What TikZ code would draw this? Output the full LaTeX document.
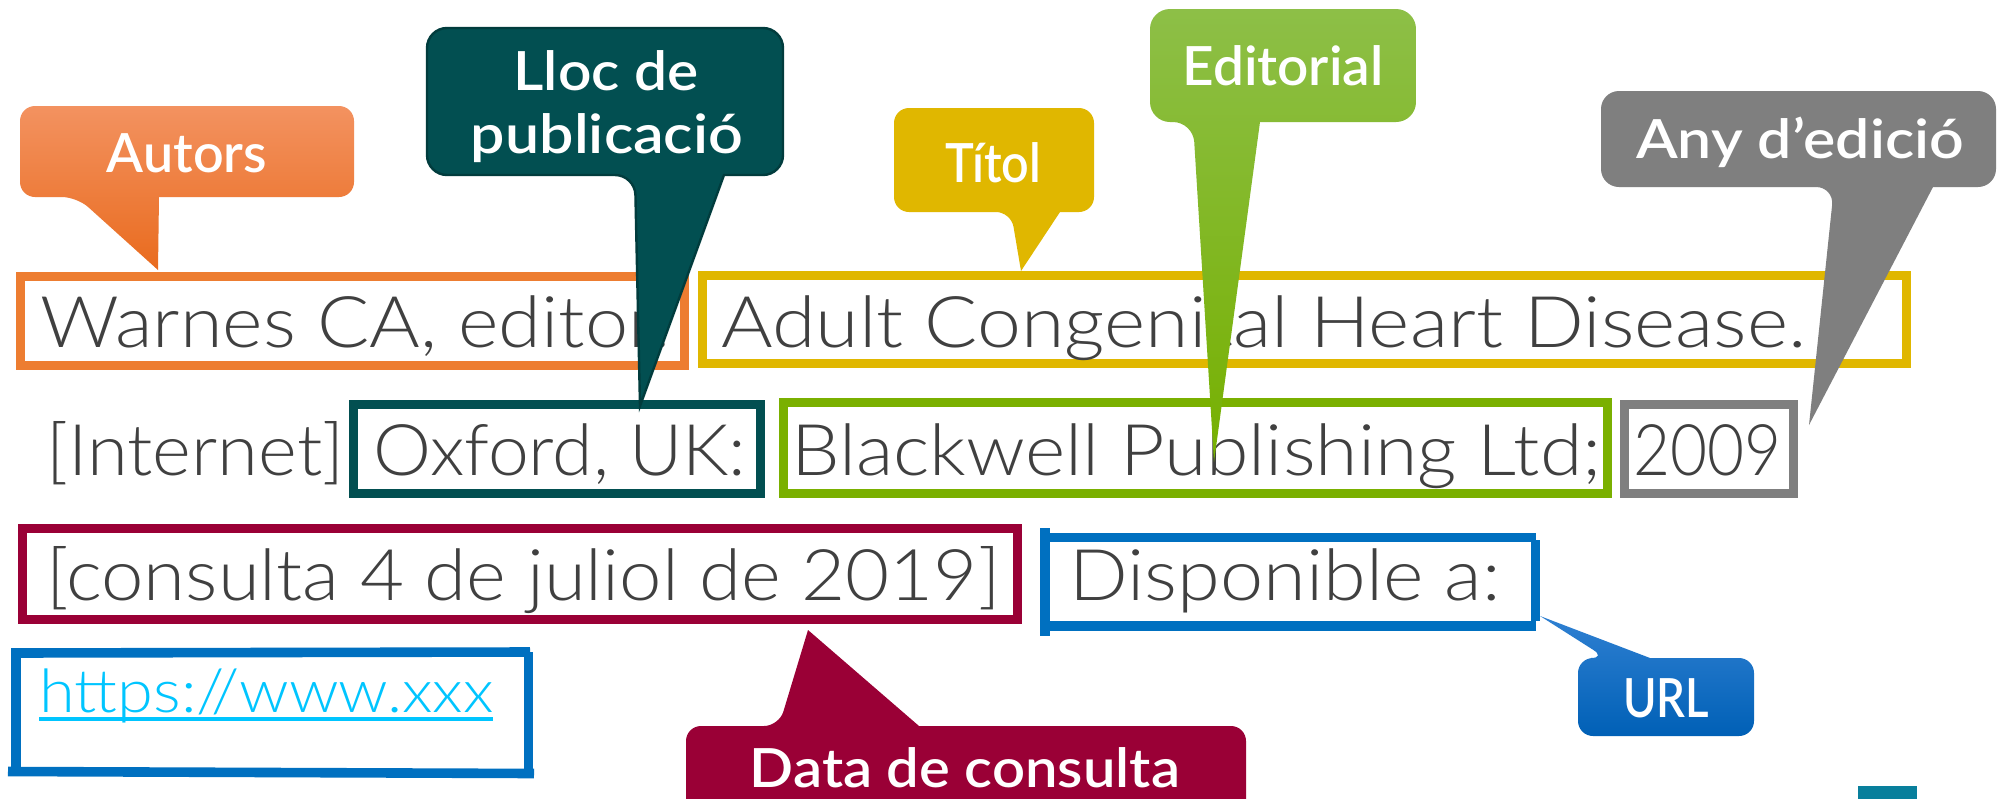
\documentclass[tikz,border=0pt]{standalone}
\usepackage{fontspec}
\newfontfamily\lightfont{Lato Light}
\newfontfamily\labfont{Lato Semibold}
\newcommand\fitw[2]{\resizebox{#1}{\height}{#2}}
\definecolor{txtgray}{HTML}{404040}
\definecolor{orFrame}{HTML}{ED7D31}
\definecolor{orTop}{HTML}{F39260}
\definecolor{orBot}{HTML}{E96B1E}
\definecolor{tealD}{HTML}{024F51}
\definecolor{tealB}{HTML}{013C3D}
\definecolor{goldC}{HTML}{E0B700}
\definecolor{grTop}{HTML}{8DBF47}
\definecolor{grBot}{HTML}{76B000}
\definecolor{grFrame}{HTML}{7AB000}
\definecolor{grayC}{HTML}{7F7F7F}
\definecolor{maroonC}{HTML}{9A0036}
\definecolor{blueC}{HTML}{0070C0}
\definecolor{blTop}{HTML}{2F80D2}
\definecolor{blBot}{HTML}{0060B6}
\definecolor{cyanC}{HTML}{00C5FF}
\definecolor{tealSq}{HTML}{087F9C}
\tikzset{
  reftext/.style={anchor=base west, inner sep=0pt, text=txtgray,
    font=\lightfont\fontsize{35.6}{40}\selectfont},
  labtext/.style={anchor=base, inner sep=0pt, text=white,
    font=\labfont\fontsize{27}{30}\selectfont},
  frame/.style={line width=4.5pt},
  stroke/.style={line width=4.8pt, draw=blueC},
  rc/.style={rounded corners=7.5pt},
}
\begin{document}
\begin{tikzpicture}[x=0.5pt,y=-0.5pt]
\useasboundingbox (0,0) rectangle (2002,798);
\fill[white] (0,0) rectangle (2002,798);

% ---- frames ----
\draw[frame, draw=orFrame] (20,276) rectangle (684,365);
\draw[frame, draw=goldC] (702.5,275.5) rectangle (1906,363.5);
\draw[frame, draw=tealD] (353.5,404.5) rectangle (760.5,493.5);
\draw[frame, draw=grFrame] (783.5,402.5) rectangle (1607.5,493.5);
\draw[frame, draw=grayC] (1624.5,404.5) rectangle (1793.5,493.5);
\draw[frame, draw=maroonC] (22.5,528.5) rectangle (1017.5,619.5);
% Disponible a: hand-drawn box
\draw[stroke] (1045,528) -- (1045,636);
\draw[stroke] (1048,537.5) -- (1536,537.5);
\draw[stroke] (1535.5,540) -- (1535.5,621);
\draw[stroke] (1048,626) -- (1536,626);
% URL hand-drawn box
\draw[stroke] (12,653) -- (530,652);
\draw[stroke] (16,648) -- (16,772);
\draw[stroke] (8,771.5) -- (534,773.5);
\draw[stroke] (528.5,652) -- (528.5,777);

% ---- reference text ----
\node[reftext] (tWarnes) at (40,347) {\fitw{315pt}{Warnes CA, editor.}};
\node[reftext] (tAdult) at (721,347) {\fitw{542.5pt}{Adult Congenital Heart Disease.}};
\node[reftext] (tInternet) at (46,475) {\fitw{149pt}{[Internet]}};
\node[reftext] (tOxford) at (373,475) {\fitw{186.5pt}{Oxford, UK:}};
\node[reftext] (tBlack) at (791,475) {\fitw{405pt}{Blackwell Publishing Ltd;}};
\node[reftext] (t2009) at (1633,475) {\fitw{74pt}{2009}};
\node[reftext] (tConsulta) at (46,600) {\fitw{477pt}{[consulta 4 de juliol de 2019]}};
\node[reftext] (tDisp) at (1069,600) {\fitw{215.5pt}{Disponible a:}};
\node[reftext, text=cyanC, font=\lightfont\fontsize{30}{34}\selectfont] (tUrl) at (39,712) {\fitw{227pt}{https://www.xxx}};
\draw[cyanC, line width=1.8pt] (39,719) -- (493,719);

% ---- callout tips ----
\coordinate (pAut) at (158,270);
\coordinate (pLloc) at (640,406);
\coordinate (pTit) at (1021,271);
\coordinate (pEd) at (1214,462);
\coordinate (pAny) at (1809,425);
\coordinate (pURL) at (1540,616);
\coordinate (pDat) at (808,630);

% ---- callouts ----
\shade[top color=orTop, bottom color=orBot]
  (159,197) [rc] -- (354,197) -- (354,106) -- (20,106) -- (20,197) -- (77,197) [sharp corners] -- (pAut) -- cycle;
\node[labtext] (lAut) at (187,172) {\fitw{80pt}{Autors}};

\filldraw[fill=tealD, draw=tealB, line width=1.2pt]
  (724,175) [rounded corners=10pt] -- (783,175) -- (783,28) -- (427,28) -- (427,175) -- (635,175) [sharp corners] -- (pLloc) -- cycle;
\node[labtext] (lLloc1) at (606,90) {\fitw{92.5pt}{Lloc de}};
\node[labtext] (lLloc2) at (607,153) {\fitw{136pt}{publicació}};

\fill[goldC]
  (1060,212) [rc] -- (1094,212) -- (1094,108) -- (894,108) -- (894,212) -- (1011,212) [sharp corners] -- (pTit) -- cycle;
\node[labtext] (lTit) at (993,182) {\fitw{48pt}{Títol}};

\shade[top color=grTop, bottom color=grBot]
  (1260,122) [rounded corners=10pt] -- (1416,122) -- (1416,9) -- (1150,9) -- (1150,122) -- (1193,122) [sharp corners] -- (pEd) -- cycle;
\node[labtext] (lEd) at (1283,85) {\fitw{100.5pt}{Editorial}};

\fill[grayC]
  (1933,187) [rounded corners=9pt] -- (1996,187) -- (1996,91) -- (1601,91) -- (1601,187) -- (1834,187) [sharp corners] -- (pAny) -- cycle;
\node[labtext] (lAny) at (1800,158) {\fitw{164pt}{Any d’edició}};

\shade[top color=blTop, bottom color=blBot]
  (1606,658) -- (pURL) -- (1650,658) [rc] -- (1754,658) -- (1754,736) -- (1578,736) -- (1578,658) -- cycle;
\node[labtext] (lURL) at (1666,717) {\fitw{43pt}{URL}};

\fill[maroonC]
  (779,726) -- (pDat) -- (919,726) [rc] -- (1246,726) -- (1246,840) -- (686,840) -- (686,726) -- cycle;
\node[labtext] (lDat) at (965,787) {\fitw{215pt}{Data de consulta}};

% small teal block
\fill[tealSq] (1858,786) rectangle (1917,800);
\end{tikzpicture}
\end{document}
